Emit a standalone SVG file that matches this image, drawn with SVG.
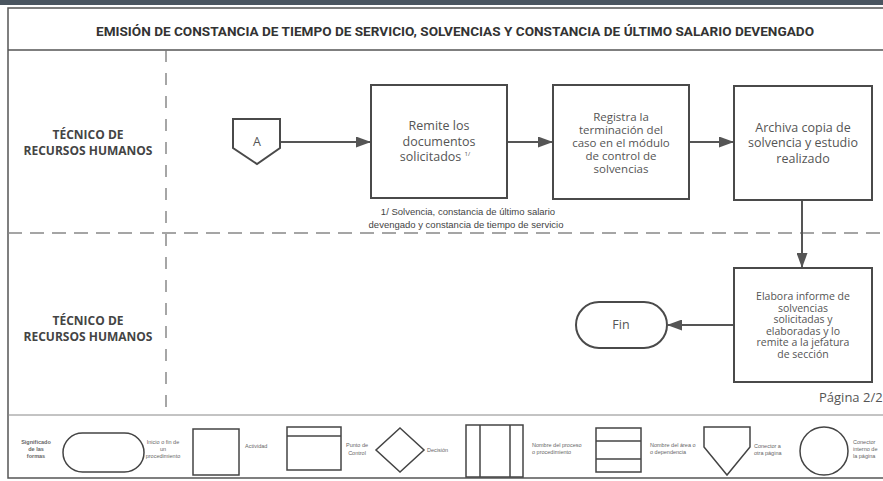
<svg xmlns="http://www.w3.org/2000/svg" width="883" height="481" viewBox="0 0 883 481">
<defs>
<style>
.frame{fill:none;stroke:#555;stroke-width:1.5}
.lane{fill:none;stroke:#888;stroke-width:1.3;stroke-dasharray:14 8}
.vlane{fill:none;stroke:#777;stroke-width:1.3;stroke-dasharray:12 11}
.box{fill:#fff;stroke:#4a4a4a;stroke-width:2}
.lg{fill:#fff;stroke:#444;stroke-width:1.5}
.edge{fill:none;stroke:#555;stroke-width:2}
.t{font-family:"Open Sans","DejaVu Sans",sans-serif;font-size:12.5px;fill:#555;text-anchor:middle}
.t2{font-family:"Open Sans","DejaVu Sans",sans-serif;font-size:11.5px;fill:#555;text-anchor:middle}
.t4{font-family:"Open Sans","DejaVu Sans",sans-serif;font-size:10.5px;fill:#555;text-anchor:middle}
.lbl{font-family:"Open Sans","DejaVu Sans",sans-serif;font-size:12px;font-weight:bold;fill:#444;text-anchor:middle}
.note{font-family:"Liberation Sans","DejaVu Sans",sans-serif;font-size:9.5px;fill:#444;text-anchor:middle}
.lt{font-family:"Liberation Sans","DejaVu Sans",sans-serif;font-size:5.5px;fill:#666}
</style>
<marker id="ah" markerWidth="15" markerHeight="11" refX="14" refY="5.5" orient="auto" markerUnits="userSpaceOnUse">
<path d="M0,0 L15,5.5 L0,11 Z" fill="#555"/>
</marker>
</defs>
<rect x="0" y="0" width="883" height="5" fill="#4a5560"/>
<rect x="0" y="5" width="883" height="476" fill="#fff"/>
<g id="frame">
<rect class="frame" x="8" y="8" width="890" height="470"/>
<line class="frame" x1="8" y1="50" x2="883" y2="50"/>
<line x1="8" y1="415" x2="883" y2="415" stroke="#888" stroke-width="1"/>
<line class="lane" x1="8" y1="233" x2="883" y2="233"/>
<line class="vlane" x1="166" y1="50" x2="166" y2="412"/>
<text x="455" y="36" font-family="Roboto,'Liberation Sans',sans-serif" font-size="12" font-weight="bold" fill="#333" text-anchor="middle" textLength="718" lengthAdjust="spacingAndGlyphs">EMISIÓN DE CONSTANCIA DE TIEMPO DE SERVICIO, SOLVENCIAS Y CONSTANCIA DE ÚLTIMO SALARIO DEVENGADO</text>
<text class="lbl" x="88" y="139">TÉCNICO DE</text>
<text class="lbl" x="88" y="155">RECURSOS HUMANOS</text>
<text class="lbl" x="88" y="325">TÉCNICO DE</text>
<text class="lbl" x="88" y="341">RECURSOS HUMANOS</text>
<text x="819" y="402" font-family="'Open Sans','DejaVu Sans',sans-serif" font-size="13" fill="#555">Página 2/2</text>
</g>
<g id="connectors">
<line class="edge" x1="280" y1="142" x2="370" y2="142" marker-end="url(#ah)"/>
<line class="edge" x1="507" y1="142" x2="552" y2="142" marker-end="url(#ah)"/>
<line class="edge" x1="689" y1="142" x2="733" y2="142" marker-end="url(#ah)"/>
<line class="edge" x1="802" y1="200" x2="802" y2="267" marker-end="url(#ah)"/>
<line class="edge" x1="734" y1="325" x2="668" y2="325" marker-end="url(#ah)"/>
</g>
<g id="connA">
<path class="box" d="M233,119 H280 V148 L257,164 L233,148 Z" stroke-width="1.5"/>
<text class="t" x="257" y="146" font-size="12">A</text>
</g>
<g id="n1">
<rect class="box" x="371" y="85" width="136" height="113"/>
<text class="t" x="439" y="130">Remite los</text>
<text class="t" x="439" y="146">documentos</text>
<text class="t" x="435" y="161">solicitados <tspan font-size="6" dy="-5">1/</tspan></text>
</g>
<g id="note">
<text class="note" x="468" y="215">1/ Solvencia, constancia de último salario</text>
<text class="note" x="466" y="228">devengado y constancia  de tiempo de servicio</text>
</g>
<g id="n2">
<rect class="box" x="553" y="85" width="136" height="114"/>
<text class="t2" x="621" y="121">Registra la</text>
<text class="t2" x="621" y="134">terminación del</text>
<text class="t2" x="621" y="147">caso en el módulo</text>
<text class="t2" x="621" y="160">de control de</text>
<text class="t2" x="621" y="173">solvencias</text>
</g>
<g id="n3">
<rect class="box" x="734" y="86" width="138" height="114"/>
<text class="t" x="803" y="132">Archiva copia de</text>
<text class="t" x="803" y="147">solvencia y estudio</text>
<text class="t" x="803" y="163">realizado</text>
</g>
<g id="n4">
<rect class="box" x="734" y="268" width="138" height="114"/>
<text class="t4" x="803" y="300">Elabora informe de</text>
<text class="t4" x="803" y="311.5">solvencias</text>
<text class="t4" x="803" y="323">solicitadas y</text>
<text class="t4" x="803" y="334.5">elaboradas y lo</text>
<text class="t4" x="803" y="346">remite a la jefatura</text>
<text class="t4" x="803" y="357.5">de sección</text>
</g>
<g id="fin">
<rect class="box" x="576" y="302" width="91" height="46" rx="23" ry="23" stroke-width="1.5"/>
<text class="t" x="621" y="329">Fin</text>
</g>
<g id="legend">
<text class="lt" x="36" y="444" text-anchor="middle" font-weight="bold" fill="#444">Significado</text>
<text class="lt" x="36" y="451" text-anchor="middle" font-weight="bold" fill="#444">de las</text>
<text class="lt" x="36" y="458" text-anchor="middle" font-weight="bold" fill="#444">formas</text>
<rect class="lg" x="63" y="433" width="81" height="39" rx="19.5" ry="19.5"/>
<text class="lt" x="163" y="444" text-anchor="middle">Inicio o fin de</text>
<text class="lt" x="163" y="451" text-anchor="middle">un</text>
<text class="lt" x="163" y="458" text-anchor="middle">procedimiento</text>
<rect class="lg" x="193" y="429" width="46" height="46"/>
<text class="lt" x="245" y="448">Actividad</text>
<rect class="lg" x="287" y="427" width="54" height="43"/>
<line class="lg" x1="287" y1="436" x2="341" y2="436"/>
<text class="lt" x="357" y="447" text-anchor="middle">Punto de</text>
<text class="lt" x="357" y="455" text-anchor="middle">Control</text>
<path class="lg" d="M400,428 L424,450 L400,472 L376,450 Z"/>
<text class="lt" x="427" y="452">Decisión</text>
<rect class="lg" x="466" y="425" width="57" height="52"/>
<line class="lg" x1="480" y1="425" x2="480" y2="477"/>
<line class="lg" x1="510" y1="425" x2="510" y2="477"/>
<text class="lt" x="532" y="447">Nombre del proceso</text>
<text class="lt" x="532" y="454">o procedimiento</text>
<rect class="lg" x="596" y="428" width="45" height="44"/>
<line class="lg" x1="596" y1="441" x2="641" y2="441"/>
<line class="lg" x1="596" y1="459" x2="641" y2="459"/>
<text class="lt" x="650" y="447">Nombre del área o</text>
<text class="lt" x="650" y="454">o dependencia</text>
<path class="lg" d="M704,427 H750 V447 L727,475 L704,447 Z"/>
<text class="lt" x="754" y="448">Conector a</text>
<text class="lt" x="754" y="455">otra página</text>
<circle class="lg" cx="824" cy="451" r="24"/>
<text class="lt" x="853" y="444">Conector</text>
<text class="lt" x="853" y="451">interno de</text>
<text class="lt" x="853" y="458">la página</text>
</g>
</svg>
